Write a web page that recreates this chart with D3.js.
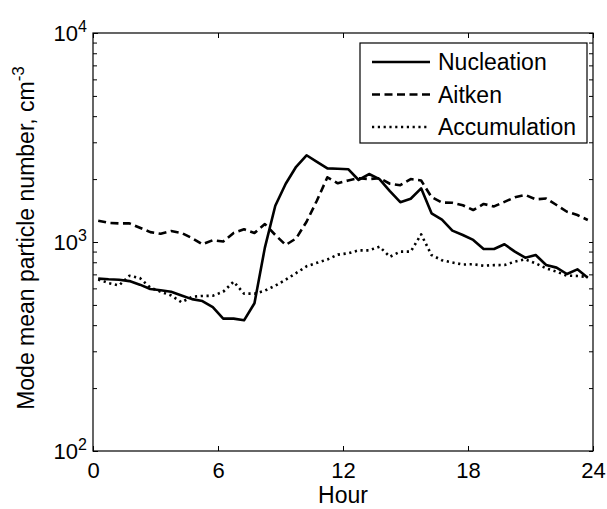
<!DOCTYPE html>
<html>
<head>
<meta charset="utf-8">
<script src="https://cdn.jsdelivr.net/npm/d3@7"></script>
<style>
  body { margin: 0; background: #fff; }
  svg text { font-family: "Liberation Sans", Arial, sans-serif; fill: #000; }
</style>
</head>
<body>
<div id="chart"></div>
<script>
// half-hour bins (bin centres)
var hours = [0.25, 0.75, 1.25, 1.75, 2.25, 2.75, 3.25, 3.75, 4.25, 4.75, 5.25, 5.75,
  6.25, 6.75, 7.25, 7.75, 8.25, 8.75, 9.25, 9.75, 10.25, 10.75, 11.25, 11.75,
  12.25, 12.75, 13.25, 13.75, 14.25, 14.75, 15.25, 15.75, 16.25, 16.75, 17.25, 17.75,
  18.25, 18.75, 19.25, 19.75, 20.25, 20.75, 21.25, 21.75, 22.25, 22.75, 23.25, 23.75];

var nucleation = [668, 663, 660, 650, 625, 596, 588, 578, 555, 533, 522, 488,
  430, 430, 422, 509, 940, 1490, 1900, 2290, 2600, 2420, 2250, 2240,
  2230, 1980, 2115, 2000, 1750, 1550, 1610, 1806, 1372, 1280, 1133, 1080,
  1023, 926, 926, 975, 899, 841, 866, 776, 754, 703, 740, 675];

var aitken = [1265, 1235, 1228, 1228, 1170, 1115, 1095, 1128, 1105, 1045, 975, 1020,
  1005, 1105, 1150, 1105, 1219, 1080, 968, 1040, 1250, 1580, 2040, 1910,
  1970, 2020, 2000, 2020, 1900, 1870, 2000, 1970, 1640, 1545, 1540, 1500,
  1422, 1520, 1480, 1555, 1637, 1679, 1600, 1615, 1503, 1396, 1346, 1274];

var accumulation = [662, 636, 620, 690, 672, 605, 578, 555, 515, 547, 552, 553,
  578, 646, 566, 566, 585, 618, 660, 710, 765, 795, 825, 870,
  883, 912, 912, 950, 850, 899, 900, 1088, 866, 818, 798, 780,
  783, 770, 775, 776, 805, 826, 790, 748, 721, 690, 688, 680];

var seriesNames = ["Nucleation", "Aitken", "Accumulation"];
var xTicks = [0, 6, 12, 18, 24];
var yMajor = [100, 1000, 10000];

(function() {
  var W = 607, H = 509;
  var margin = { left: 93, right: 593, top: 33, bottom: 451 };

  var svg = d3.select("#chart").append("svg")
    .attr("width", W)
    .attr("height", H);

  var x = d3.scaleLinear().domain([0, 24]).range([margin.left, margin.right]);
  var y = d3.scaleLog().domain([100, 10000]).range([margin.bottom, margin.top]);

  // minor ticks for the log axis
  var yMinor = [];
  [100, 1000].forEach(function(d) {
    for (var k = 2; k <= 9; k++) yMinor.push(d * k);
  });

  var fontSize = 22;

  // x axis (bottom)
  svg.append("g")
    .attr("transform", "translate(0," + margin.bottom + ")")
    .call(d3.axisBottom(x).tickValues(xTicks).tickSize(-5).tickPadding(11))
    .call(function(g) {
      g.select(".domain").remove();
      g.selectAll("text").attr("font-size", fontSize).attr("font-family", null);
    });

  // x axis (top, ticks only)
  svg.append("g")
    .attr("transform", "translate(0," + margin.top + ")")
    .call(d3.axisTop(x).tickValues(xTicks).tickSize(-5).tickFormat(""))
    .call(function(g) { g.select(".domain").remove(); });

  // y axis left major
  var yAxisG = svg.append("g")
    .attr("transform", "translate(" + margin.left + ",0)")
    .call(d3.axisLeft(y).tickValues(yMajor).tickSize(-5).tickFormat(""))
    .call(function(g) { g.select(".domain").remove(); });

  yAxisG.selectAll(".tick text").remove();
  yAxisG.selectAll(".tick").append("text")
    .attr("x", -6)
    .attr("y", 0)
    .attr("dy", "0.36em")
    .attr("text-anchor", "end")
    .attr("font-size", fontSize)
    .text("10")
    .append("tspan")
    .attr("dy", "-0.6em")
    .attr("font-size", 16)
    .text(function(d) { return Math.round(Math.log10(d)); });

  // y axis left minor
  svg.append("g")
    .attr("transform", "translate(" + margin.left + ",0)")
    .call(d3.axisLeft(y).tickValues(yMinor).tickSize(-4).tickFormat(""))
    .call(function(g) { g.select(".domain").remove(); });

  // y axis right (ticks only)
  svg.append("g")
    .attr("transform", "translate(" + margin.right + ",0)")
    .call(d3.axisRight(y).tickValues(yMajor.concat(yMinor)).tickSize(-4).tickFormat(""))
    .call(function(g) { g.select(".domain").remove(); });

  svg.selectAll(".tick line").attr("stroke", "#000");

  // box
  svg.append("rect")
    .attr("x", margin.left)
    .attr("y", margin.top)
    .attr("width", margin.right - margin.left)
    .attr("height", margin.bottom - margin.top)
    .attr("fill", "none")
    .attr("stroke", "#000")
    .attr("stroke-width", 1.2);

  // lines
  var styles = {
    "Nucleation": { dash: null, width: 2.6 },
    "Aitken": { dash: "8,4.5", width: 2.6 },
    "Accumulation": { dash: "2.2,3.6", width: 2.6 }
  };
  var values = { "Nucleation": nucleation, "Aitken": aitken, "Accumulation": accumulation };

  var line = d3.line()
    .x(function(d) { return x(d[0]); })
    .y(function(d) { return y(d[1]); });

  seriesNames.slice().reverse().forEach(function(name) {
    var pts = hours.map(function(h, i) { return [h, values[name][i]]; });
    svg.append("path")
      .datum(pts)
      .attr("d", line)
      .attr("fill", "none")
      .attr("stroke", "#000")
      .attr("stroke-width", styles[name].width)
      .attr("stroke-linejoin", "round")
      .attr("stroke-dasharray", styles[name].dash);
  });

  // axis labels
  svg.append("text")
    .attr("x", (margin.left + margin.right) / 2)
    .attr("y", 503)
    .attr("text-anchor", "middle")
    .attr("font-size", 23)
    .text("Hour");

  var yl = svg.append("text")
    .attr("text-anchor", "middle")
    .attr("transform", "translate(34," + ((margin.top + margin.bottom) / 2 - 4) + ")rotate(-90)")
    .attr("font-size", 23)
    .text("Mode mean particle number, cm");
  yl.append("tspan")
    .attr("dy", "-0.6em")
    .attr("font-size", 17)
    .text("-3");

  // legend
  var legend = svg.append("g");
  legend.append("rect")
    .attr("x", 360)
    .attr("y", 43)
    .attr("width", 227)
    .attr("height", 100)
    .attr("fill", "#fff")
    .attr("stroke", "#000")
    .attr("stroke-width", 1.2);

  seriesNames.forEach(function(name, i) {
    var ly = 62 + i * 32.5;
    legend.append("line")
      .attr("x1", 372)
      .attr("x2", 430)
      .attr("y1", ly)
      .attr("y2", ly)
      .attr("stroke", "#000")
      .attr("stroke-width", 2.6)
      .attr("stroke-dasharray", styles[name].dash);
    legend.append("text")
      .attr("x", 438)
      .attr("y", ly)
      .attr("dy", "0.36em")
      .attr("font-size", 23)
      .text(name);
  });
})();
</script>
</body>
</html>
